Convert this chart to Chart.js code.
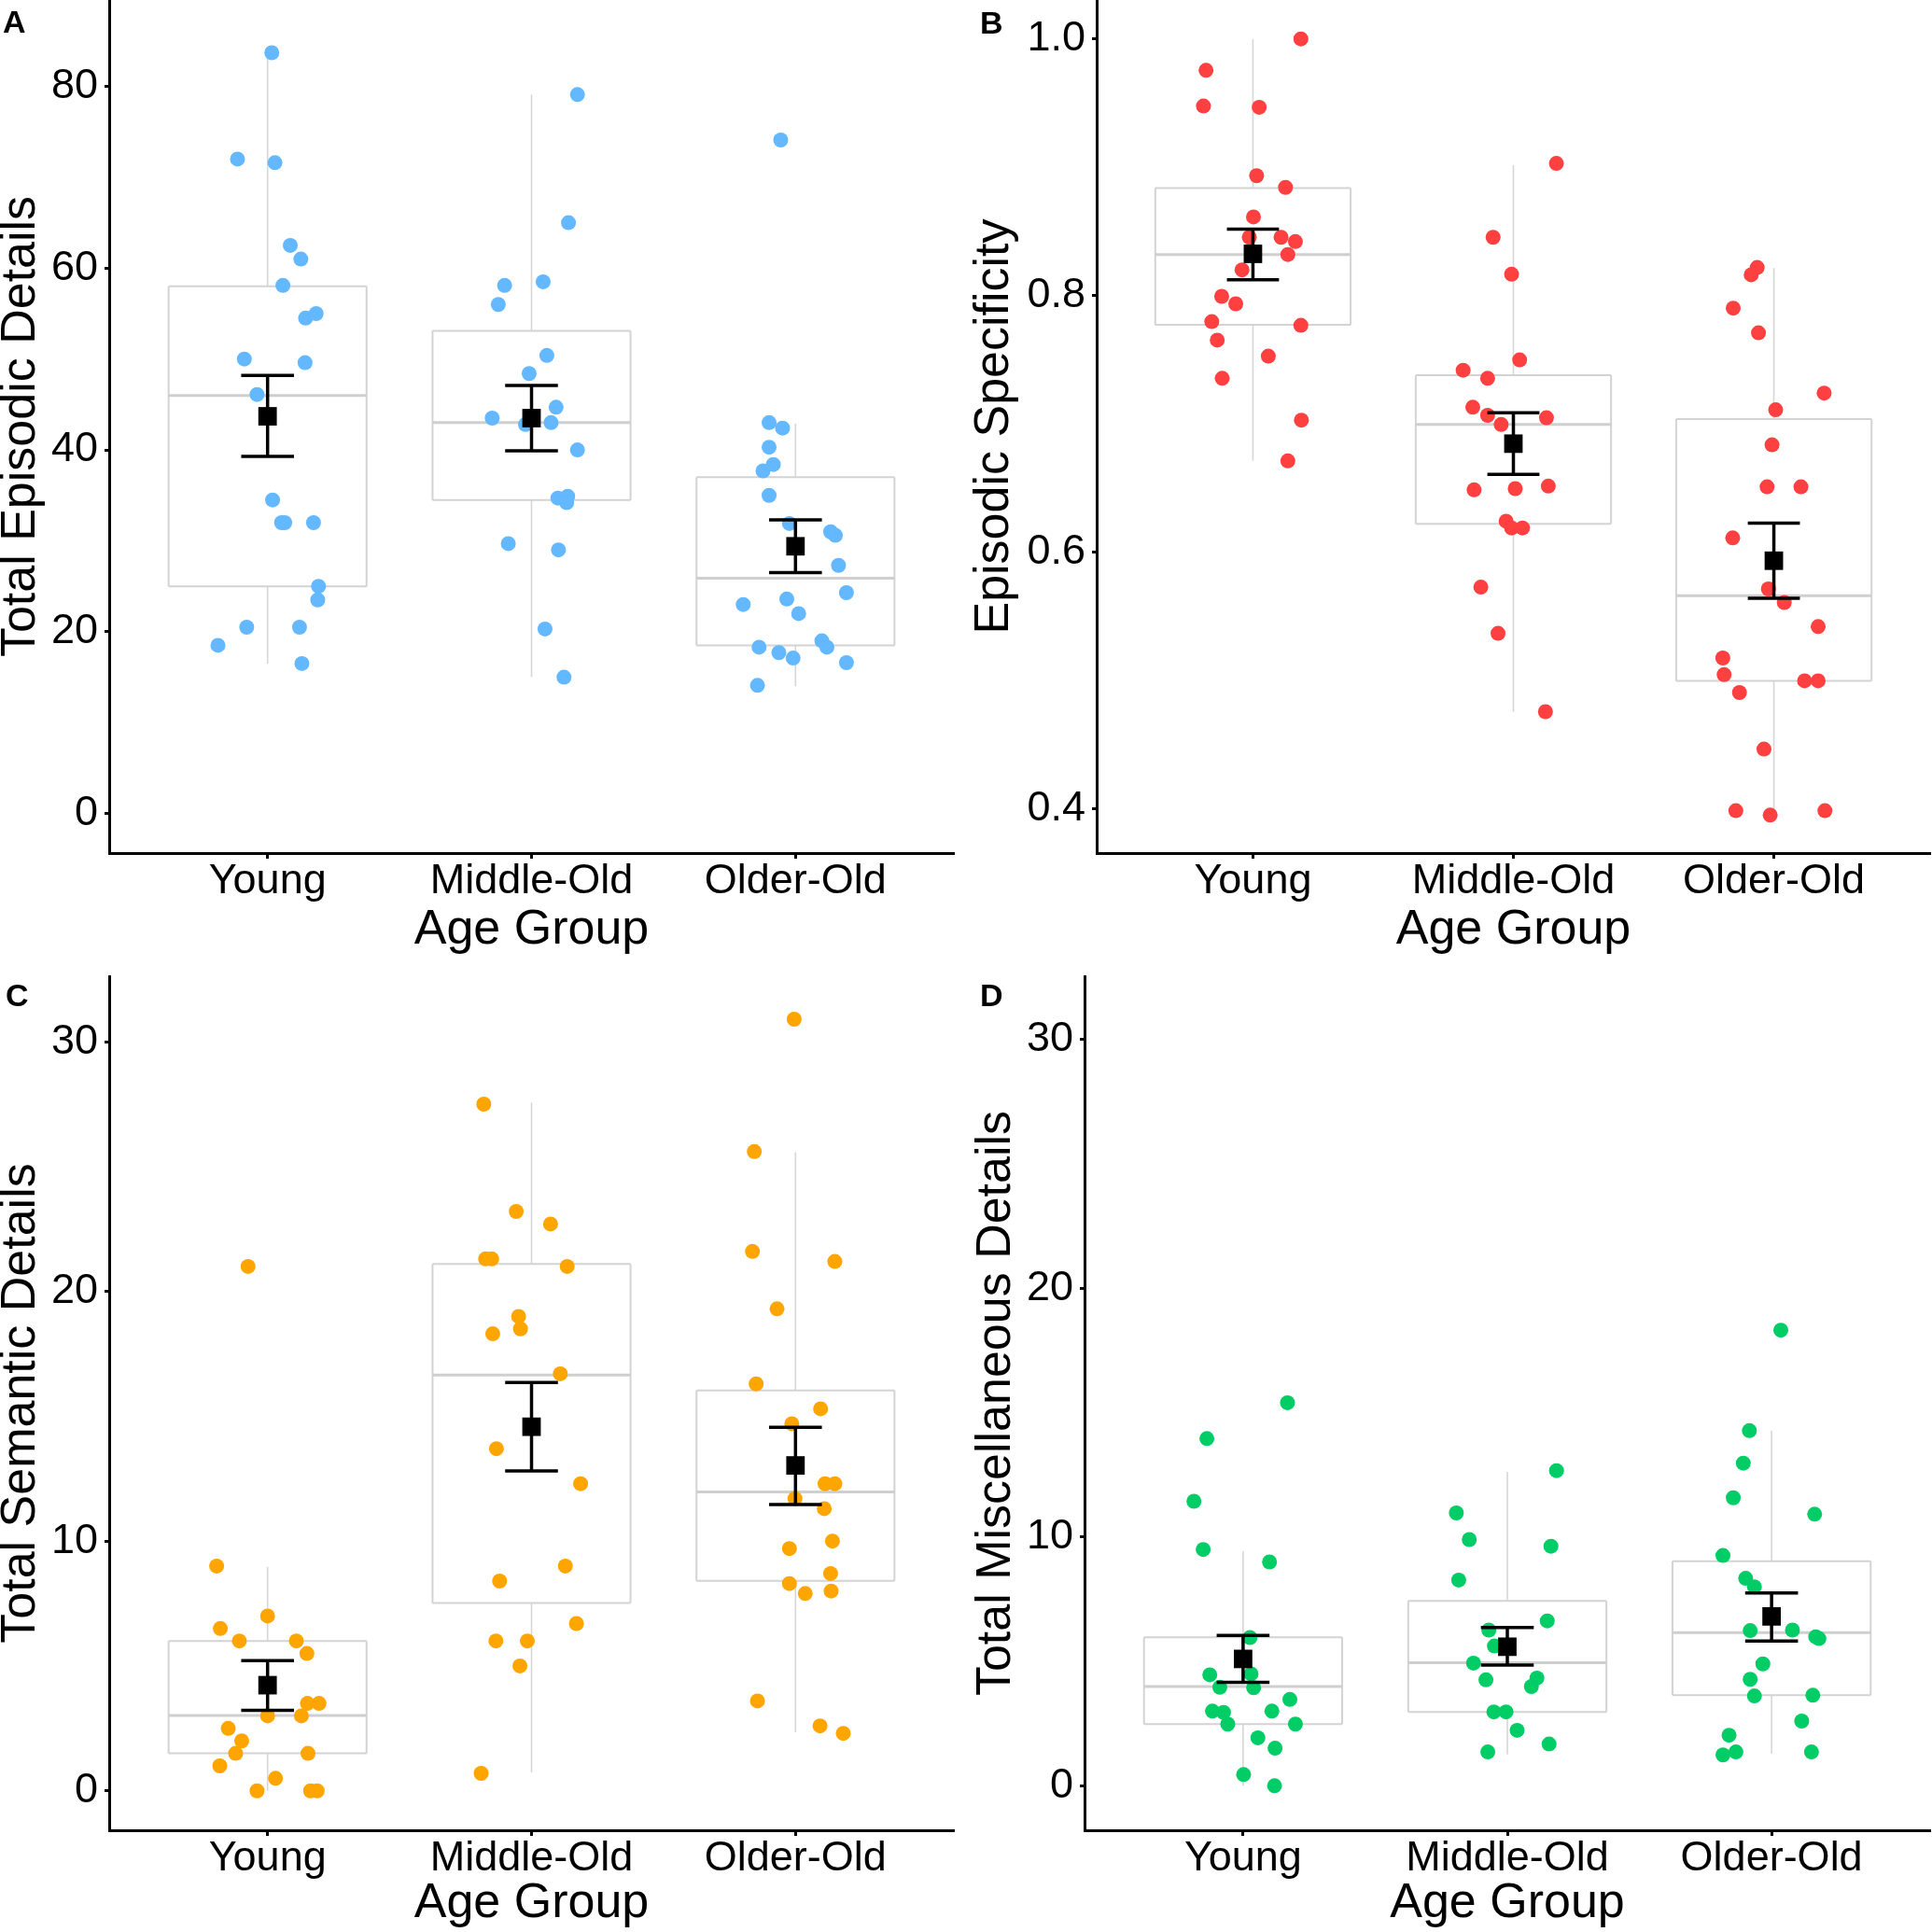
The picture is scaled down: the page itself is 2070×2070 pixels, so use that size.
<!DOCTYPE html>
<html>
<head>
<meta charset="utf-8">
<script src="https://cdn.jsdelivr.net/npm/chart.js@4.4.1/dist/chart.umd.min.js"></script>
<style>
  body { margin: 0; background: #fff; }
  #wrap { position: relative; width: 2070px; height: 2070px; background: #fff; }
  .panel { position: absolute; }
  .tag { position: absolute; font: bold 34px "Liberation Sans", Arial, sans-serif; line-height: 1; color: #000; }
</style>
</head>
<body>
<div id="wrap">
  <canvas id="chartA" class="panel" width="1035" height="1035" style="left:0;top:0"></canvas>
  <canvas id="chartB" class="panel" width="1035" height="1035" style="left:1035px;top:0"></canvas>
  <canvas id="chartC" class="panel" width="1035" height="1035" style="left:0;top:1035px"></canvas>
  <canvas id="chartD" class="panel" width="1035" height="1035" style="left:1035px;top:1035px"></canvas>
  <div class="tag" style="left:3px;top:6px">A</div>
  <div class="tag" style="left:1050px;top:7px">B</div>
  <div class="tag" style="left:6px;top:1049px">C</div>
  <div class="tag" style="left:1050px;top:1049px">D</div>
</div>
<script>
const groups = ['Young', 'Middle-Old', 'Older-Old'];

// A - Total Episodic Details
const epiYoung = [83.7, 72.0, 71.6, 62.5, 61.0, 58.1, 54.5, 55.0, 50.0, 49.6, 46.1, 34.5, 32.0, 32.0, 32.0, 25.0, 23.5, 20.5, 20.5, 18.5, 16.5];
const epiYoungJit = [0.016, -0.114, 0.028, 0.086, 0.126, 0.058, 0.144, 0.184, -0.088, 0.142, -0.04, 0.019, 0.053, 0.065, 0.174, 0.193, 0.19, -0.079, 0.121, -0.188, 0.13];
const epiMiddle = [79.1, 65.0, 58.1, 58.5, 56.0, 50.4, 48.4, 44.7, 43.5, 43.0, 42.8, 40.0, 34.7, 34.9, 34.2, 29.7, 29.0, 20.3, 15.0];
const epiMiddleJit = [0.174, 0.14, -0.102, 0.044, -0.126, 0.058, -0.009, 0.093, -0.149, 0.074, -0.023, 0.174, 0.1, 0.137, 0.133, -0.088, 0.102, 0.051, 0.123];
const epiOlder = [74.1, 43.0, 42.4, 40.3, 38.4, 37.7, 35.0, 31.9, 31.0, 30.6, 27.3, 23.6, 24.3, 23.0, 22.0, 18.3, 19.0, 18.3, 17.7, 17.1, 16.6, 14.1];
const epiOlderJit = [-0.056, -0.1, -0.049, -0.1, -0.084, -0.123, -0.1, -0.023, 0.133, 0.151, 0.163, -0.033, 0.193, -0.198, 0.012, -0.138, 0.1, 0.119, -0.063, -0.009, 0.193, -0.144];
const epiMin = [16.5, 15.0, 14.0];
const epiQ1 = [25.0, 34.5, 18.5];
const epiMed = [46.0, 43.0, 25.9];
const epiQ3 = [58.0, 53.1, 37.0];
const epiMax = [83.7, 79.1, 42.9];
const epiMean = [43.7, 43.5, 29.4];
const epiLow = [39.3, 39.9, 26.5];
const epiHigh = [48.2, 47.1, 32.3];
const epiTicks = [0, 20, 40, 60, 80];

// B - Episodic Specificity
const specYoung = [1.0, 0.9755, 0.9477, 0.9467, 0.8934, 0.8843, 0.8613, 0.8454, 0.8454, 0.8421, 0.832, 0.82, 0.7994, 0.7936, 0.7797, 0.7768, 0.7653, 0.7528, 0.7355, 0.7029, 0.6712];
const specYoungJit = [0.184, -0.18, -0.19, 0.024, 0.014, 0.125, 0.002, -0.014, 0.108, 0.163, 0.134, -0.042, -0.12, -0.066, -0.158, 0.184, -0.137, 0.059, -0.118, 0.186, 0.134];
const specMiddle = [0.903, 0.8454, 0.8166, 0.7499, 0.7418, 0.7355, 0.713, 0.7067, 0.6995, 0.7048, 0.6486, 0.6496, 0.6515, 0.6242, 0.6189, 0.6189, 0.5728, 0.5368, 0.4758];
const specMiddleJit = [0.165, -0.078, -0.007, 0.024, -0.193, -0.099, -0.156, -0.099, -0.047, 0.127, -0.151, 0.007, 0.134, -0.028, -0.007, 0.035, -0.125, -0.059, 0.123];
const specOlder = [0.8219, 0.8162, 0.7902, 0.771, 0.724, 0.711, 0.6837, 0.651, 0.651, 0.6112, 0.5714, 0.5608, 0.5421, 0.5176, 0.5046, 0.4907, 0.4998, 0.4998, 0.4466, 0.3986, 0.3952, 0.3986];
const specOlderJit = [-0.064, -0.087, -0.156, -0.059, 0.193, 0.007, -0.007, -0.026, 0.104, -0.158, -0.021, 0.04, 0.17, -0.196, -0.191, -0.132, 0.118, 0.17, -0.038, -0.146, -0.014, 0.196];
const specMin = [0.6712, 0.4758, 0.3952];
const specQ1 = [0.7773, 0.6222, 0.4998];
const specMed = [0.832, 0.6995, 0.5661];
const specQ3 = [0.8838, 0.7379, 0.7038];
const specMax = [1.0, 0.9016, 0.8214];
const specMean = [0.8325, 0.6846, 0.5934];
const specLow = [0.8123, 0.6606, 0.5642];
const specHigh = [0.8517, 0.7086, 0.6227];
const specTicks = [0.4, 0.6, 0.8, 1.0];

// C - Total Semantic Details
const semYoung = [21, 9, 7, 6.5, 6, 6, 5.5, 3.5, 3.5, 3, 3, 2.5, 2, 1.5, 1.5, 1, 0.5, 0, 0, 0];
const semYoungJit = [-0.074, -0.193, 0, -0.179, -0.107, 0.109, 0.149, 0.151, 0.195, 0.128, 0, -0.149, -0.098, -0.121, 0.153, -0.181, 0.03, -0.04, 0.163, 0.188];
const semMiddle = [27.5, 23.2, 22.7, 21.3, 21.3, 21, 19, 18.5, 18.3, 16.7, 13.7, 12.3, 9, 8.4, 6.7, 6, 6, 5, 0.7];
const semMiddleJit = [-0.181, -0.058, 0.072, -0.174, -0.151, 0.135, -0.049, -0.042, -0.147, 0.109, -0.133, 0.186, 0.128, -0.121, 0.17, -0.135, -0.016, -0.044, -0.191];
const semOlder = [30.9, 25.6, 21.6, 21.2, 19.3, 16.3, 15.3, 14.7, 12.3, 12.3, 11.7, 11.3, 10, 9.7, 8.7, 8.3, 7.9, 8, 3.6, 2.6, 2.3];
const semOlderJit = [-0.005, -0.156, -0.163, 0.149, -0.07, -0.149, 0.095, -0.014, 0.112, 0.149, -0.002, 0.109, 0.14, -0.023, 0.133, -0.023, 0.037, 0.135, -0.144, 0.093, 0.181];
const semMin = [0, 0.74, 2.34];
const semQ1 = [1.5, 7.52, 8.41];
const semMed = [3.02, 16.65, 11.97];
const semQ3 = [6.0, 21.1, 16.03];
const semMax = [8.97, 27.56, 25.57];
const semMean = [4.23, 14.58, 13.03];
const semLow = [3.22, 12.81, 11.46];
const semHigh = [5.21, 16.35, 14.56];
const semTicks = [0, 10, 20, 30];

// D - Total Miscellaneous Details
const miscYoung = [15.4, 13.96, 11.44, 9.5, 9.0, 5.96, 4.46, 4.5, 3.96, 3.94, 3.47, 3.0, 2.95, 3.0, 2.48, 2.48, 1.93, 1.51, 0.45, 0.0];
const miscYoungJit = [0.168, -0.137, -0.186, -0.151, 0.1, 0.026, -0.126, 0.03, -0.088, 0.04, 0.177, -0.116, -0.074, 0.109, -0.058, 0.198, 0.056, 0.121, 0.002, 0.119];
const miscMiddle = [12.67, 10.97, 9.9, 9.63, 8.27, 6.63, 6.26, 5.62, 4.93, 4.33, 4.26, 3.99, 2.97, 2.97, 2.23, 1.68, 1.36];
const miscMiddleJit = [0.186, -0.193, -0.144, 0.165, -0.184, 0.151, -0.07, -0.049, -0.128, 0.112, -0.081, 0.091, -0.051, -0.005, 0.037, 0.158, -0.074];
const miscOlder = [18.32, 14.28, 12.97, 11.58, 10.92, 9.26, 8.34, 8.0, 6.24, 6.26, 5.99, 5.92, 4.9, 4.28, 3.61, 3.64, 2.6, 2.03, 1.24, 1.36, 1.36];
const miscOlderJit = [0.035, -0.084, -0.107, -0.145, 0.163, -0.184, -0.098, -0.065, -0.081, 0.079, 0.167, 0.179, -0.033, -0.081, -0.065, 0.156, 0.114, -0.161, -0.184, -0.135, 0.151];
const miscMin = [0, 1.26, 1.29];
const miscQ1 = [2.48, 2.97, 3.64];
const miscMed = [3.99, 4.95, 6.16];
const miscQ3 = [5.97, 7.43, 9.03];
const miscMax = [9.43, 12.62, 14.28];
const miscMean = [5.1, 5.59, 6.81];
const miscLow = [4.16, 4.85, 5.82];
const miscHigh = [6.04, 6.36, 7.75];
const miscTicks = [0, 10, 20, 30];

const FONT = '"Liberation Sans", Arial, sans-serif';
const BOX_HALF = 0.375;
const CAP_HALF = 0.1;

// a list of [x1, y1, x2, y2] -> one broken line
function segs(list) {
    const pts = [];
    list.forEach(s => {
        pts.push({ x: s[0], y: s[1] }, { x: s[2], y: s[3] }, { x: s[0], y: null });
    });
    return pts;
}

function lineSet(data, color, width, order) {
    return {
        data: data, showLine: true, borderColor: color, borderWidth: width,
        pointRadius: 0, order: order, clip: false, spanGaps: false
    };
}

function makePanel(id, p) {
    const boxLines = [], medLines = [], whiskers = [], errLines = [];
    const means = [];
    const ds = [];

    for (let i = 0; i < 3; i++) {
        const x = i + 1;
        boxLines.push([x - BOX_HALF, p.q1[i], x + BOX_HALF, p.q1[i]]);
        boxLines.push([x + BOX_HALF, p.q1[i], x + BOX_HALF, p.q3[i]]);
        boxLines.push([x + BOX_HALF, p.q3[i], x - BOX_HALF, p.q3[i]]);
        boxLines.push([x - BOX_HALF, p.q3[i], x - BOX_HALF, p.q1[i]]);
        medLines.push([x - BOX_HALF, p.med[i], x + BOX_HALF, p.med[i]]);
        whiskers.push([x, p.q3[i], x, p.max[i]]);
        whiskers.push([x, p.min[i], x, p.q1[i]]);
        errLines.push([x, p.low[i], x, p.high[i]]);
        errLines.push([x - CAP_HALF, p.high[i], x + CAP_HALF, p.high[i]]);
        errLines.push([x - CAP_HALF, p.low[i], x + CAP_HALF, p.low[i]]);
        means.push({ x: x, y: p.mean[i] });

        const vals = p.points[i], jit = p.jitter[i];
        ds.push({
            data: vals.map((v, j) => ({ x: x + jit[j], y: v })),
            pointRadius: 8, pointBackgroundColor: p.color, pointBorderWidth: 0,
            order: 2, clip: false
        });
    }

    ds.push(lineSet(segs(whiskers), '#d6d6d6', 1.6, 5));
    ds.push(lineSet(segs(boxLines), '#d3d3d3', 2, 4));
    ds.push(lineSet(segs(medLines), '#cfcfcf', 3, 3));
    ds.push(lineSet(segs(errLines), '#000', 3.5, 1));
    ds.push({
        data: means, pointStyle: 'rect', pointRadius: 14,
        pointBackgroundColor: '#000', pointBorderWidth: 0, order: 0, clip: false
    });

    new Chart(document.getElementById(id), {
        type: 'scatter',
        data: { datasets: ds },
        options: {
            responsive: false,
            animation: false,
            devicePixelRatio: 1,
            events: [],
            layout: { padding: p.pad, autoPadding: false },
            plugins: { legend: { display: false }, tooltip: { enabled: false } },
            scales: {
                x: {
                    type: 'linear', min: 0.4, max: 3.6,
                    afterBuildTicks: s => { s.ticks = groups.map((g, i) => ({ value: i + 1 })); },
                    afterFit: s => { s.height = p.xh; s.paddingLeft = 0; s.paddingRight = 0; },
                    ticks: {
                        callback: v => groups[Math.round(v) - 1],
                        font: { family: FONT, size: 45, lineHeight: 1 },
                        color: '#000', padding: 2, maxRotation: 0, autoSkip: false
                    },
                    grid: { drawOnChartArea: false, tickLength: 6, tickWidth: 3, tickColor: '#000' },
                    border: { color: '#000', width: 3 },
                    title: {
                        display: true, text: 'Age Group', color: '#000', padding: 0,
                        font: { family: FONT, size: 52, lineHeight: 1 }
                    }
                },
                y: {
                    type: 'linear', min: p.ymin, max: p.ymax,
                    afterBuildTicks: s => { s.ticks = p.ticks.map(v => ({ value: v })); },
                    afterFit: s => { s.width = p.yw; s.paddingTop = 0; s.paddingBottom = 0; },
                    ticks: {
                        callback: p.fmt,
                        font: { family: FONT, size: 45, lineHeight: 1 },
                        color: '#000', padding: 7
                    },
                    grid: { drawOnChartArea: false, tickLength: 5, tickWidth: 3, tickColor: '#000' },
                    border: { color: '#000', width: 3 },
                    title: {
                        display: true, text: p.title, color: '#000', padding: 0,
                        font: { family: FONT, size: 52, lineHeight: 0.88 }
                    }
                }
            }
        }
    });
}

makePanel('chartA', {
    title: 'Total Episodic Details', color: '#63b8ff',
    points: [epiYoung, epiMiddle, epiOlder], jitter: [epiYoungJit, epiMiddleJit, epiOlderJit],
    min: epiMin, q1: epiQ1, med: epiMed, q3: epiQ3, max: epiMax,
    mean: epiMean, low: epiLow, high: epiHigh, ticks: epiTicks,
    ymin: -4.35, ymax: 89.5, fmt: v => String(v),
    pad: { left: 0, top: 0, right: 13, bottom: 12 }, yw: 117, xh: 109
});

makePanel('chartB', {
    title: 'Episodic Specificity', color: '#ff4040',
    points: [specYoung, specMiddle, specOlder], jitter: [specYoungJit, specMiddleJit, specOlderJit],
    min: specMin, q1: specQ1, med: specMed, q3: specQ3, max: specMax,
    mean: specMean, low: specLow, high: specHigh, ticks: specTicks,
    ymin: 0.3656, ymax: 1.0303, fmt: v => v.toFixed(1),
    pad: { left: 8, top: 0, right: 2, bottom: 12 }, yw: 132, xh: 109
});

makePanel('chartC', {
    title: 'Total Semantic Details', color: '#ffa500',
    points: [semYoung, semMiddle, semOlder], jitter: [semYoungJit, semMiddleJit, semOlderJit],
    min: semMin, q1: semQ1, med: semMed, q3: semQ3, max: semMax,
    mean: semMean, low: semLow, high: semHigh, ticks: semTicks,
    ymin: -1.58, ymax: 32.62, fmt: v => String(v),
    pad: { left: 0, top: 11, right: 13, bottom: 4 }, yw: 117, xh: 105
});

makePanel('chartD', {
    title: 'Total Miscellaneous Details', color: '#00cd66',
    points: [miscYoung, miscMiddle, miscOlder], jitter: [miscYoungJit, miscMiddleJit, miscOlderJit],
    min: miscMin, q1: miscQ1, med: miscMed, q3: miscQ3, max: miscMax,
    mean: miscMean, low: miscLow, high: miscHigh, ticks: miscTicks,
    ymin: -1.79, ymax: 32.55, fmt: v => String(v),
    pad: { left: 10, top: 11, right: 2, bottom: 4 }, yw: 117, xh: 105
});
</script>
</body>
</html>
